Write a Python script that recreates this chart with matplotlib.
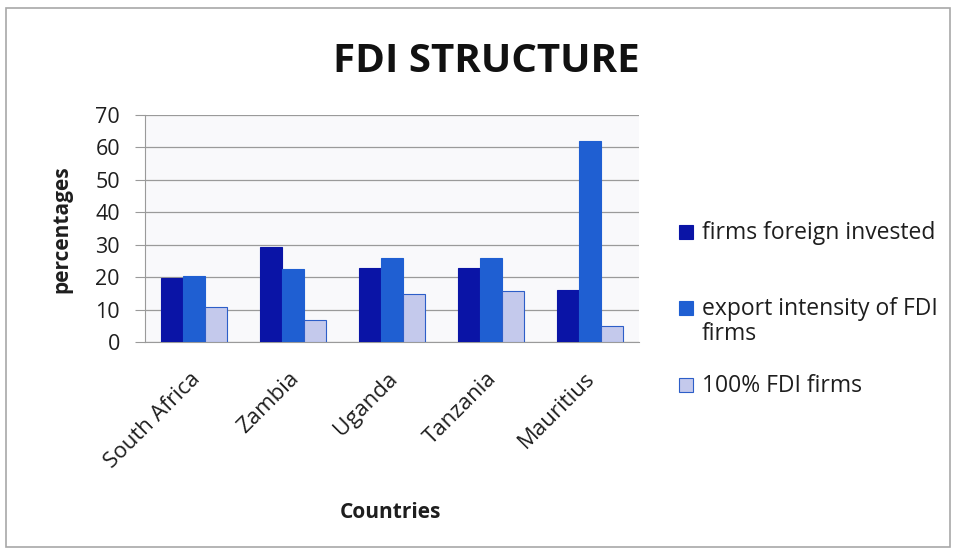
import matplotlib
matplotlib.use("Agg")
import matplotlib.pyplot as plt
from matplotlib.patches import Rectangle
from matplotlib.transforms import ScaledTranslation
import numpy as np

plt.rcParams['font.family'] = ['Open Sans', 'DejaVu Sans']

countries = ["South Africa", "Zambia", "Uganda", "Tanzania", "Mauritius"]
series_names = ["firms foreign invested", "export intensity of FDI\nfirms", "100% FDI firms"]
foreign_invested = [19.6, 29.3, 22.9, 22.9, 16.1]
export_intensity = [20.3, 22.5, 25.8, 25.8, 62.1]
full_fdi = [10.9, 6.8, 14.8, 15.6, 4.9]
y_ticks = [0, 10, 20, 30, 40, 50, 60, 70]

fill_colors = ["#0a14a6", "#1f5fd2", "#c4c9ec"]
edge_colors = ["#0a14a6", "#1f5fd2", "#2d5ec8"]
text_color = "#1e1e1e"

W, H = 958, 553
fig = plt.figure(figsize=(W / 100, H / 100), dpi=100)
fig.patch.set_facecolor("white")


def fx(px):
    return px / W


def fy(py):
    return 1 - py / H


# outer chart frame
fig.add_artist(Rectangle((fx(6), fy(547)), 944 / W, 539 / H,
                         transform=fig.transFigure, fill=False,
                         edgecolor="#a8a8a8", linewidth=1.2))

ax = fig.add_axes([fx(145), fy(342), 494 / W, 227 / H])
ax.set_facecolor("#f9f9fb")

x = np.arange(len(countries))
w = 0.222
data = [foreign_invested, export_intensity, full_fdi]
for i, vals in enumerate(data):
    ax.bar(x + (i - 1) * w, vals, width=w, color=fill_colors[i],
           edgecolor=edge_colors[i], linewidth=0.8, zorder=3)

ax.set_xlim(-0.5, len(countries) - 0.5)
ax.set_ylim(0, 70)
ax.set_yticks(y_ticks)
ax.set_yticklabels([str(t) for t in y_ticks], fontsize=15.5, color=text_color)
ax.yaxis.grid(True, color="#9a9a9a", linewidth=0.9, zorder=0)
ax.set_axisbelow(True)
ax.tick_params(axis="y", length=7, color="#9a9a9a", pad=11)
ax.tick_params(axis="x", length=0, pad=19)
ax.set_xticks(x)
ax.set_xticklabels(countries, rotation=45, ha="right", rotation_mode="anchor",
                   fontsize=16, color=text_color)
shift = ScaledTranslation(-0.05, 0, fig.dpi_scale_trans)
for lbl in ax.get_xticklabels():
    lbl.set_transform(lbl.get_transform() + shift)
for side in ["top", "right"]:
    ax.spines[side].set_visible(False)
ax.spines["left"].set_color("#9a9a9a")
ax.spines["bottom"].set_color("#9a9a9a")

fig.text(fx(62), fy(229), "percentages", fontsize=15, fontweight="bold",
         rotation=90, ha="center", va="center", color=text_color)
fig.text(fx(390), fy(513), "Countries", fontsize=15, fontweight="bold",
         ha="center", va="center", color=text_color)
fig.text(fx(486), fy(61), "FDI STRUCTURE", fontsize=29, fontweight="bold",
         ha="center", va="center", color="#111111")

# legend entries: key square (bottom aligned to the first baseline) plus label
baselines = [[239], [315, 340], [392]]
lines_per_entry = [name.split("\n") for name in series_names]
sq = 14
for i, bl in enumerate(baselines):
    fig.add_artist(Rectangle((fx(679), fy(bl[0])), sq / W, sq / H,
                             transform=fig.transFigure,
                             facecolor=fill_colors[i], edgecolor=edge_colors[i],
                             linewidth=0.8))
    for line, by in zip(lines_per_entry[i], bl):
        fig.text(fx(702), fy(by), line, fontsize=16.5, ha="left", va="baseline",
                 color=text_color)

fig.savefig("out.png", dpi=100)
